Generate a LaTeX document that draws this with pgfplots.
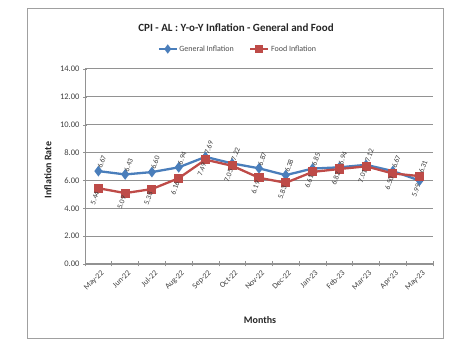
\documentclass[border=0pt]{standalone}
\usepackage{pgfplots}
\pgfplotsset{compat=1.18}
\usepackage{fontspec}
\setmainfont{Carlito}
\definecolor{genblue}{HTML}{4A7EBB}
\definecolor{foodred}{HTML}{BE4B48}
\definecolor{framegray}{HTML}{A0A0A0}
\definecolor{gridgray}{HTML}{929292}
\begin{document}
\begin{tikzpicture}[x=1pt,y=1pt]
\path[use as bounding box] (0,0) rectangle (471,356);
\draw[framegray, line width=1pt] (27,18) rectangle (443,347);
\begin{axis}[
  at={(85pt,92pt)}, anchor=south west,
  scale only axis, width=348pt, height=195pt,
  xmin=-0.5, xmax=12.5, ymin=0, ymax=14,
  ytick={0,2,...,14},
  xtick={0,...,12},
  xticklabels={May-22,Jun-22,Jul-22,Aug-22,Sep-22,Oct-22,Nov-22,Dec-22,Jan-23,Feb-23,Mar-23,Apr-23,May-23},
  minor xtick={-0.5,0.5,...,12.5},
  major x tick style={draw=none},
  minor tick length=5pt,
  tick align=center,
  major tick length=4pt,
  ytick style={gridgray},
  minor x tick style={gridgray, line width=0.6pt},
  x tick label style={rotate=45, anchor=north east, font=\fontsize{8}{9}\selectfont, text=black!75, inner sep=1pt, yshift=-3pt},
  y tick label style={font=\fontsize{8.5}{9}\selectfont, text=black!75},
  /pgf/number format/.cd, fixed, fixed zerofill, precision=2, assume math mode=true,
  /pgfplots/.cd,
  ymajorgrids, grid style={gridgray, line width=1pt},
  axis x line*=bottom, axis y line*=left,
  axis line style={gridgray, line width=0.9pt},
  legend columns=2,
  legend style={at={(0.44,1.1026)}, anchor=center, draw=none, fill=none, font=\fontsize{8}{9}\selectfont, text=black!70, /tikz/every even column/.append style={column sep=14pt}},
  legend image code/.code={\draw[#1, line width=1.3pt] (0pt,0pt) -- (18pt,0pt); \draw[#1, mark size=2.8pt] plot coordinates {(9pt,0pt)};},
  nodes near coords style={font=\fontsize{7.5}{8}\selectfont, text=black!75, rotate=70},
]
\addplot[genblue, line width=2.3pt, mark=diamond*, mark size=3.5pt]
  coordinates {(0,6.67)(1,6.43)(2,6.60)(3,6.94)(4,7.69)(5,7.22)(6,6.87)(7,6.38)(8,6.85)(9,6.94)(10,7.12)(11,6.67)(12,5.99)};
\addlegendentry{General Inflation}
\addplot[foodred, line width=2.3pt, mark=square*, mark size=3.4pt]
  coordinates {(0,5.44)(1,5.09)(2,5.38)(3,6.16)(4,7.49)(5,7.05)(6,6.19)(7,5.83)(8,6.61)(9,6.82)(10,7.01)(11,6.5)(12,6.31)};
\addlegendentry{Food Inflation}
% labels above
\addplot[draw=none, mark=none, forget plot,
  nodes near coords={\pgfmathprintnumber[fixed,precision=2]{\pgfplotspointmeta}},
  every node near coord/.append style={anchor=west, inner sep=3pt}]
  coordinates {(0,6.67)(1,6.43)(2,6.60)(3,6.94)(4,7.69)(5,7.22)(6,6.87)(7,6.38)(8,6.85)(9,6.94)(10,7.12)(11,6.67)(12,6.31)};
% labels below
\addplot[draw=none, mark=none, forget plot,
  nodes near coords={\pgfmathprintnumber[fixed,precision=2]{\pgfplotspointmeta}},
  every node near coord/.append style={anchor=east, inner sep=3.5pt}]
  coordinates {(0,5.44)(1,5.09)(2,5.38)(3,6.16)(4,7.49)(5,7.05)(6,6.19)(7,5.83)(8,6.61)(9,6.82)(10,7.01)(11,6.5)(12,5.99)};
\end{axis}
\node[font=\bfseries\fontsize{11}{12}\selectfont, text=black!85] at (236,328) {CPI - AL : Y-o-Y Inflation - General and Food};
\node[font=\bfseries\fontsize{10}{11}\selectfont, text=black!85, rotate=90] at (48,186) {Inflation Rate};
\node[font=\bfseries\fontsize{10}{11}\selectfont, text=black!85] at (260,36) {Months};
\end{tikzpicture}
\end{document}
